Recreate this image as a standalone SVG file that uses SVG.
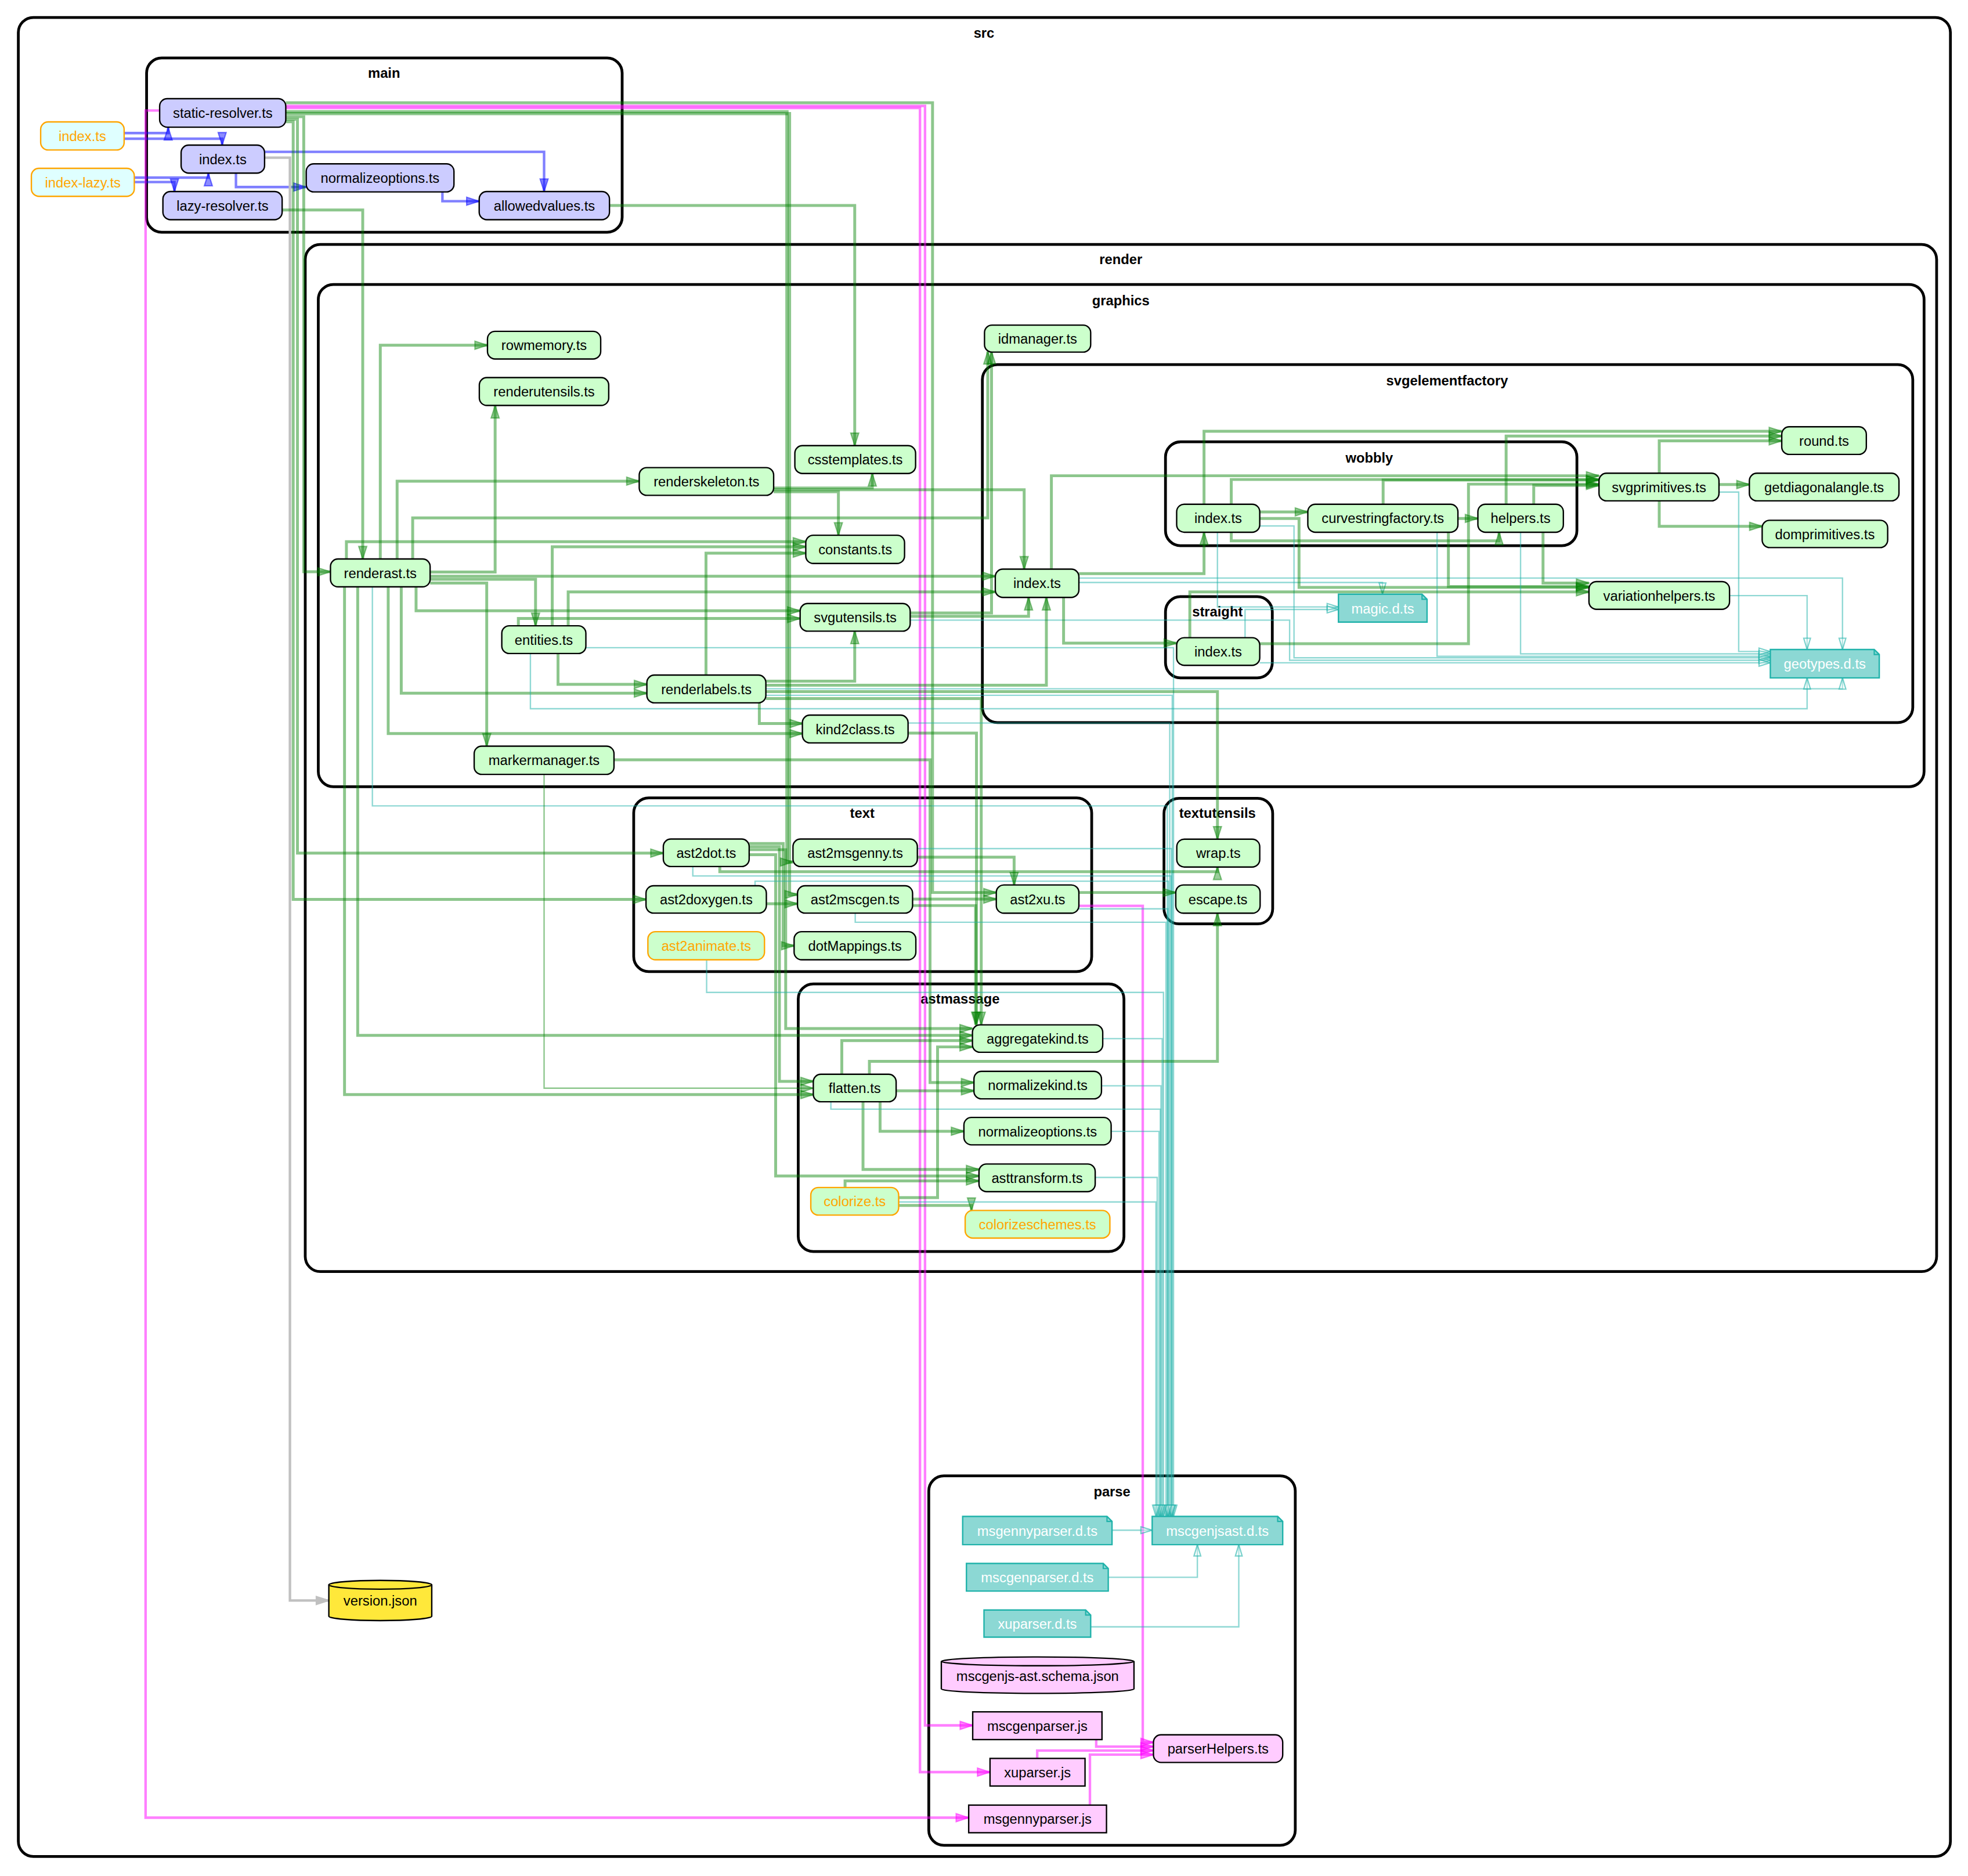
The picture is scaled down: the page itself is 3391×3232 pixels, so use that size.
<svg xmlns="http://www.w3.org/2000/svg" width="3391" height="3232" viewBox="0 0 3391 3232">
<style>
.cl{fill:none;stroke:#000;stroke-width:2.2}
.cll{font-family:"Liberation Sans",Arial,sans-serif;font-size:11px;font-weight:bold;text-anchor:middle;fill:#000}
.nt{font-family:"Liberation Sans",Arial,sans-serif;font-size:11px;text-anchor:middle;fill:#000}
.nto{font-family:"Liberation Sans",Arial,sans-serif;font-size:11px;text-anchor:middle;fill:#ffa500}
.ntw{font-family:"Liberation Sans",Arial,sans-serif;font-size:11px;text-anchor:middle;fill:#fff}
.nm{fill:#ccccff;stroke:#000;stroke-width:1.1}
.ng{fill:#ccffcc;stroke:#000;stroke-width:1.1}
.ngo{fill:#ccffcc;stroke:#ffa500;stroke-width:1.1}
.nco{fill:#dfffff;stroke:#ffa500;stroke-width:1.1}
.nd{fill:#8cd8d4;stroke:#20b2aa;stroke-width:1.1}
.np{fill:#ffccff;stroke:#000;stroke-width:1.1}
.ny{fill:#ffe83a;stroke:#000;stroke-width:1.1}
.g{fill:none;stroke:#008000;stroke-opacity:0.45;stroke-width:2.3;marker-end:url(#mg)}
.gt{fill:none;stroke:#008000;stroke-opacity:0.45;stroke-width:1.1;marker-end:url(#mg)}
.b{fill:none;stroke:#0000ff;stroke-opacity:0.5;stroke-width:2;marker-end:url(#mb)}
.m{fill:none;stroke:#ff00ff;stroke-opacity:0.5;stroke-width:2;marker-end:url(#mm)}
.t{fill:none;stroke:#20b2aa;stroke-opacity:0.5;stroke-width:1.1;marker-end:url(#mt)}
.gr{fill:none;stroke:#c0c0c0;stroke-width:2;marker-end:url(#mgr)}
</style>
<defs>
<marker id="mg" markerUnits="userSpaceOnUse" markerWidth="10" markerHeight="6.4" viewBox="0 0 10 6.4" refX="10" refY="3.2" orient="auto" overflow="visible"><path d="M0,0 L10,3.2 L0,6.4 z" fill="#008000" fill-opacity="0.4" stroke="#008000" stroke-opacity="0.45" stroke-width="1"/></marker>
<marker id="mb" markerUnits="userSpaceOnUse" markerWidth="10" markerHeight="6.4" viewBox="0 0 10 6.4" refX="10" refY="3.2" orient="auto" overflow="visible"><path d="M0,0 L10,3.2 L0,6.4 z" fill="#0000ff" fill-opacity="0.45" stroke="#0000ff" stroke-opacity="0.5" stroke-width="1"/></marker>
<marker id="mm" markerUnits="userSpaceOnUse" markerWidth="10" markerHeight="6.4" viewBox="0 0 10 6.4" refX="10" refY="3.2" orient="auto" overflow="visible"><path d="M0,0 L10,3.2 L0,6.4 z" fill="#ff00ff" fill-opacity="0.45" stroke="#ff00ff" stroke-opacity="0.5" stroke-width="1"/></marker>
<marker id="mt" markerUnits="userSpaceOnUse" markerWidth="9" markerHeight="5.4" viewBox="0 0 9 5.4" refX="9" refY="2.7" orient="auto" overflow="visible"><path d="M0,0 L9,2.7 L0,5.4 z" fill="#ffffff" fill-opacity="0.3" stroke="#20b2aa" stroke-opacity="0.6" stroke-width="1"/></marker>
<marker id="mgr" markerUnits="userSpaceOnUse" markerWidth="10" markerHeight="6.4" viewBox="0 0 10 6.4" refX="10" refY="3.2" orient="auto" overflow="visible"><path d="M0,0 L10,3.2 L0,6.4 z" fill="#c0c0c0" stroke="#c0c0c0" stroke-width="1"/></marker>
</defs>
<rect width="3391" height="3232" fill="#fff"/>
<g transform="scale(2.16263)">
<g id="clusters">
<g id="cluster_src"><rect class="cl" x="14.6" y="13.9" width="1539.4" height="1465" rx="12"/><text class="cll" x="784" y="30">src</text></g>
<g id="cluster_main"><rect class="cl" x="116.8" y="46.2" width="378.9" height="138.8" rx="12"/><text class="cll" x="306" y="62">main</text></g>
<g id="cluster_render"><rect class="cl" x="243.2" y="194.7" width="1299.8" height="818.3" rx="12"/><text class="cll" x="893" y="210.5">render</text></g>
<g id="cluster_graphics"><rect class="cl" x="253.6" y="226.6" width="1279.4" height="400.1" rx="12"/><text class="cll" x="893" y="243">graphics</text></g>
<g id="cluster_svgelementfactory"><rect class="cl" x="782.7" y="290.4" width="741.3" height="285.2" rx="12"/><text class="cll" x="1153" y="307">svgelementfactory</text></g>
<g id="cluster_wobbly"><rect class="cl" x="928.6" y="352" width="327.8" height="82.7" rx="12"/><text class="cll" x="1091" y="368.5">wobbly</text></g>
<g id="cluster_straight"><rect class="cl" x="928.6" y="475.3" width="85.1" height="64.7" rx="12"/><text class="cll" x="970" y="491">straight</text></g>
<g id="cluster_text"><rect class="cl" x="504.9" y="635.6" width="364.9" height="138.4" rx="12"/><text class="cll" x="687" y="651.5">text</text></g>
<g id="cluster_textutensils"><rect class="cl" x="927.4" y="636" width="86.6" height="100" rx="12"/><text class="cll" x="970" y="651.5">textutensils</text></g>
<g id="cluster_astmassage"><rect class="cl" x="636" y="783.8" width="259.5" height="213.2" rx="12"/><text class="cll" x="765" y="799.5">astmassage</text></g>
<g id="cluster_parse"><rect class="cl" x="740" y="1175.7" width="292" height="294.3" rx="12"/><text class="cll" x="886" y="1192">parse</text></g>
</g>
<g id="edges">
<path class="b" d="M99,106 H134 V101.5"/>
<path class="b" d="M99,110.5 H177 V115.6"/>
<path class="b" d="M107,141.5 H166 V138"/>
<path class="b" d="M107,145 H139 V152.6"/>
<path class="b" d="M188,138 V149 H244"/>
<path class="b" d="M210.8,121 H433.5 V152.6"/>
<path class="b" d="M352.5,153 V160.3 H381.8"/>
<path class="gr" d="M210.8,125.6 H231 V1275 H262"/>
<path class="m" d="M227.7,84.4 H737 V1374.5 H775"/>
<path class="m" d="M227.7,86 H733 V1411.7 H788.8"/>
<path class="m" d="M127.2,88 H116 V1448 H771.8"/>
<path class="m" d="M859.6,721.6 H910.5 V1388 H919"/>
<path class="m" d="M873.4,1385.8 V1391.4 H919"/>
<path class="m" d="M826.4,1400.8 V1394.5 H919"/>
<path class="m" d="M868.4,1438 V1397.8 H919"/>
<path class="g" d="M227.7,81.8 H743 V711 H793.8"/>
<path class="g" style="stroke-width:2.6" d="M227.7,89 H627 V686.7 H631.8"/>
<path class="g" style="stroke-width:2.6" d="M227.7,90.5 H629 V712.6 H635.4"/>
<path class="g" d="M227.7,93 H242 V455.5 H263.3"/>
<path class="g" d="M227.7,95 H237 V679.6 H528.5"/>
<path class="g" d="M227.7,97 H233.6 V716.5 H514.7"/>
<path class="g" d="M224.8,167.3 H289 V445.3"/>
<path class="g" d="M485.6,163.7 H681 V355"/>
<path class="g" d="M303,445.3 V275 H388.4"/>
<path class="g" d="M342.7,455.7 H394.5 V323"/>
<path class="g" d="M316.4,445.3 V383.3 H509.3"/>
<path class="g" d="M328.8,445.3 V412.6 H787 V280"/>
<path class="g" d="M276,445.3 V431.5 H642"/>
<path class="g" d="M342.7,459 H793"/>
<path class="g" d="M342.7,461.5 H426.7 V498.5"/>
<path class="g" d="M342.7,464.5 H387.8 V594.4"/>
<path class="g" d="M331.5,467.5 V486.6 H637.5"/>
<path class="g" d="M319.7,467.5 V552.2 H515.4"/>
<path class="g" d="M309.3,467.5 V584.4 H639.3"/>
<path class="g" d="M285,467.5 V824.8 H774.8"/>
<path class="g" d="M274.5,467.5 V872 H648"/>
<path class="t" d="M296.7,467.5 V642 H930 V1208"/>
<path class="g" d="M616.4,388.7 H695 V377.2"/>
<path class="g" d="M616.4,391.8 H668 V426.4"/>
<path class="g" d="M616.4,390.2 H816 V453.4"/>
<path class="g" d="M440,498.5 V435.6 H642"/>
<path class="g" d="M452.7,498.5 V471.5 H793"/>
<path class="g" d="M413,498.5 V492.7 H637.5"/>
<path class="g" d="M444.6,520.6 V545.2 H515.4"/>
<path class="t" d="M466.8,516 H935 V1208"/>
<path class="t" d="M422.6,520.6 V564.6 H1439.8 V540"/>
<path class="g" d="M725.2,488.3 H790 V280"/>
<path class="g" d="M725.2,491 H819.5 V475.9"/>
<path class="t" d="M725.2,494 H1027.5 V526 H1410.5"/>
<path class="g" d="M562.5,537.8 V440.7 H642"/>
<path class="g" d="M610.2,542.6 H681 V502.8"/>
<path class="g" d="M610.2,545.9 H833.7 V475.9"/>
<path class="g" d="M610.2,551 H970 V668.5"/>
<path class="g" d="M605,559.9 V576.4 H639.3"/>
<path class="g" d="M610.2,556.5 H781.8 V816.4"/>
<path class="t" d="M610.2,548.7 H1468 V540"/>
<path class="t" d="M610.2,553.9 H934 V1208"/>
<path class="g" d="M723.5,584 H778 V816.4"/>
<path class="t" d="M723.5,576 H932 V1208"/>
<path class="g" d="M489.2,605.3 H741 V862.4 H776"/>
<path class="gt" d="M433.5,616.9 V866.9 H648"/>
<path class="g" d="M859.6,457 H959.3 V424"/>
<path class="g" d="M847.4,475.9 V512.3 H937.5"/>
<path class="g" d="M837.7,453.4 V379 H1274"/>
<path class="t" d="M859.6,460.5 H1468 V517.4"/>
<path class="t" d="M859.6,464 H1101.5 V473.4"/>
<path class="g" d="M1003.7,407.8 H1042"/>
<path class="g" d="M959.3,401.7 V343.6 H1419.6"/>
<path class="g" d="M981,401.7 V382 H1274"/>
<path class="g" d="M981,424 V430.8 H1194.4 V424"/>
<path class="g" d="M1003.7,413 H1035 V468 H1266"/>
<path class="t" d="M1003.7,419 H1031 V524 H1410.5"/>
<path class="t" d="M970,424 V483.5 H1066.4"/>
<path class="g" d="M1161.6,413 H1177.5"/>
<path class="g" d="M1102,401.7 V382.4 H1274"/>
<path class="g" d="M1154,424 V467.2 H1266"/>
<path class="t" d="M1145,424 V522.8 H1410.5"/>
<path class="g" d="M1200,401.7 V347.4 H1419.6"/>
<path class="g" d="M1222,401.7 V386.7 H1274"/>
<path class="g" d="M1229.4,424 V464.5 H1266"/>
<path class="t" d="M1211.5,424 V520.9 H1410.5"/>
<path class="g" d="M1322,377 V351.2 H1419.6"/>
<path class="g" d="M1369.6,386 H1393.8"/>
<path class="g" d="M1322,399 V419.3 H1404"/>
<path class="t" d="M1369.6,392 H1385.3 V519 H1410.5"/>
<path class="t" d="M1378,474.5 H1439.8 V517.4"/>
<path class="g" d="M1003.7,512.8 H1170 V385.7 H1274"/>
<path class="g" d="M948,508 V471.5 H1266"/>
<path class="t" d="M1003.7,528 H1410.5"/>
<path class="t" d="M992,508 V485.5 H1066.4"/>
<path class="g" d="M596.9,672 H624 V753.4 H632.7"/>
<path class="g" d="M596.9,674.5 H621 V861.4 H648"/>
<path class="g" d="M596.9,676.9 H626 V819.4 H774.8"/>
<path class="g" d="M596.9,680.9 H618 V936.8 H780"/>
<path class="g" d="M573.5,690.3 V694.4 H970 V690.7"/>
<path class="t" d="M552,690.3 V697.8 H933 V1208"/>
<path class="g" d="M610.6,720 H635.4"/>
<path class="t" d="M601.6,705.6 V702 H931 V1208"/>
<path class="g" d="M730.9,682.8 H808 V705"/>
<path class="t" d="M730.9,676 H933.5 V1208"/>
<path class="g" d="M727.1,716.3 H793.8"/>
<path class="g" d="M727.1,721.4 H777.3 V816.4"/>
<path class="t" d="M681.4,727.4 V734.7 H929 V1208"/>
<path class="g" d="M859.6,711 H936.8"/>
<path class="t" d="M859.6,724 H930.5 V1208"/>
<path class="t" d="M563,764.6 V790.6 H927 V1208"/>
<path class="g" d="M670.7,855.8 V829 H774.8"/>
<path class="g" d="M714,869 H776"/>
<path class="g" d="M701.2,877.7 V901.2 H768"/>
<path class="g" d="M687.6,877.7 V931.6 H780"/>
<path class="g" d="M692.7,855.8 V845.5 H970 V727.5"/>
<path class="t" d="M662,877.7 V883.6 H924.5 V1208"/>
<path class="t" d="M878.6,827.4 H926 V1208"/>
<path class="t" d="M877.6,865 H925 V1208"/>
<path class="t" d="M885.3,901.3 H923.5 V1208"/>
<path class="t" d="M872.6,938 H922 V1208"/>
<path class="g" d="M673.3,946 V940.8 H780"/>
<path class="g" d="M716,954 H747 V834 H774.8"/>
<path class="g" d="M716,960.3 H774 V964.3"/>
<path class="t" d="M716,957.5 H921 V1208"/>
<path class="t" d="M886,1219 H918"/>
<path class="t" d="M883,1256.5 H954 V1230.5"/>
<path class="t" d="M869,1296 H987 V1230.5"/>
</g>
<g id="nodes">
<g id="n_index_root"><rect class="nco" x="32.4" y="97.1" width="66.5" height="22.4" rx="6"/><text class="nto" x="65.6" y="112.3">index.ts</text></g>
<g id="n_index_lazy"><rect class="nco" x="25" y="134.1" width="82" height="22.3" rx="6"/><text class="nto" x="66" y="149.2">index-lazy.ts</text></g>
<g id="n_static_resolver"><rect class="nm" x="127.2" y="78.6" width="100.5" height="22.7" rx="6"/><text class="nt" x="177.5" y="93.9">static-resolver.ts</text></g>
<g id="n_main_index"><rect class="nm" x="144.3" y="115.6" width="66.5" height="22.3" rx="6"/><text class="nt" x="177.5" y="130.7">index.ts</text></g>
<g id="n_main_normalizeoptions"><rect class="nm" x="244" y="130.5" width="117.7" height="22.4" rx="6"/><text class="nt" x="302.8" y="145.7">normalizeoptions.ts</text></g>
<g id="n_lazy_resolver"><rect class="nm" x="129.8" y="152.6" width="95" height="22.4" rx="6"/><text class="nt" x="177.3" y="167.8">lazy-resolver.ts</text></g>
<g id="n_allowedvalues"><rect class="nm" x="381.8" y="152.6" width="103.8" height="22.4" rx="6"/><text class="nt" x="433.7" y="167.8">allowedvalues.ts</text></g>
<g id="n_rowmemory"><rect class="ng" x="388.4" y="264" width="90.2" height="22" rx="6"/><text class="nt" x="433.5" y="279">rowmemory.ts</text></g>
<g id="n_renderutensils"><rect class="ng" x="381.9" y="300.8" width="103.1" height="22.2" rx="6"/><text class="nt" x="433.5" y="315.9">renderutensils.ts</text></g>
<g id="n_csstemplates"><rect class="ng" x="633.3" y="355" width="96.2" height="22.2" rx="6"/><text class="nt" x="681.4" y="370.1">csstemplates.ts</text></g>
<g id="n_renderskeleton"><rect class="ng" x="509.3" y="372.5" width="107.1" height="22.1" rx="6"/><text class="nt" x="562.9" y="387.6">renderskeleton.ts</text></g>
<g id="n_constants"><rect class="ng" x="642" y="426.4" width="78.7" height="22.5" rx="6"/><text class="nt" x="681.4" y="441.6">constants.ts</text></g>
<g id="n_renderast"><rect class="ng" x="263.3" y="445.3" width="79.4" height="22.2" rx="6"/><text class="nt" x="303" y="460.4">renderast.ts</text></g>
<g id="n_svgutensils"><rect class="ng" x="637.5" y="480.8" width="87.7" height="22" rx="6"/><text class="nt" x="681.4" y="495.8">svgutensils.ts</text></g>
<g id="n_entities"><rect class="ng" x="399.8" y="498.5" width="67" height="22.1" rx="6"/><text class="nt" x="433.3" y="513.6">entities.ts</text></g>
<g id="n_renderlabels"><rect class="ng" x="515.4" y="537.8" width="94.8" height="22.1" rx="6"/><text class="nt" x="562.8" y="552.9">renderlabels.ts</text></g>
<g id="n_kind2class"><rect class="ng" x="639.3" y="569.7" width="84.2" height="22.1" rx="6"/><text class="nt" x="681.4" y="584.8">kind2class.ts</text></g>
<g id="n_markermanager"><rect class="ng" x="377.8" y="594.4" width="111.4" height="22.5" rx="6"/><text class="nt" x="433.5" y="609.6">markermanager.ts</text></g>
<g id="n_idmanager"><rect class="ng" x="784.4" y="259" width="84.6" height="21.5" rx="6"/><text class="nt" x="826.7" y="273.8">idmanager.ts</text></g>
<g id="n_sef_index"><rect class="ng" x="793" y="453.4" width="66.6" height="22.5" rx="6"/><text class="nt" x="826.3" y="468.6">index.ts</text></g>
<g id="n_wobbly_index"><rect class="ng" x="937.5" y="401.7" width="66.2" height="22.3" rx="6"/><text class="nt" x="970.6" y="416.8">index.ts</text></g>
<g id="n_curvestringfactory"><rect class="ng" x="1042" y="401.7" width="119.6" height="22.3" rx="6"/><text class="nt" x="1101.8" y="416.8">curvestringfactory.ts</text></g>
<g id="n_helpers"><rect class="ng" x="1177.5" y="401.7" width="68.1" height="22.3" rx="6"/><text class="nt" x="1211.5" y="416.8">helpers.ts</text></g>
<g id="n_svgprimitives"><rect class="ng" x="1274" y="377" width="95.6" height="22" rx="6"/><text class="nt" x="1321.8" y="392">svgprimitives.ts</text></g>
<g id="n_round"><rect class="ng" x="1419.6" y="340" width="67.4" height="22" rx="6"/><text class="nt" x="1453.3" y="355">round.ts</text></g>
<g id="n_getdiagonalangle"><rect class="ng" x="1393.8" y="377" width="119.2" height="22" rx="6"/><text class="nt" x="1453.4" y="392">getdiagonalangle.ts</text></g>
<g id="n_domprimitives"><rect class="ng" x="1404" y="414.5" width="100" height="21.7" rx="6"/><text class="nt" x="1454" y="429.4">domprimitives.ts</text></g>
<g id="n_variationhelpers"><rect class="ng" x="1266" y="463.3" width="112" height="22.1" rx="6"/><text class="nt" x="1322" y="478.4">variationhelpers.ts</text></g>
<g id="n_magic"><path class="nd" d="M1066.4,473.4 H1133 L1137,477.4 V495.6 H1066.4 Z"/><path d="M1133,473.4 V477.4 H1137" fill="none" stroke="#20b2aa" stroke-width="1"/><text class="ntw" x="1101.7" y="488.6">magic.d.ts</text></g>
<g id="n_straight_index"><rect class="ng" x="937.5" y="508" width="66.2" height="22" rx="6"/><text class="nt" x="970.6" y="523">index.ts</text></g>
<g id="n_geotypes"><path class="nd" d="M1410.5,517.4 H1493.3 L1497.3,521.4 V540 H1410.5 Z"/><path d="M1493.3,517.4 V521.4 H1497.3" fill="none" stroke="#20b2aa" stroke-width="1"/><text class="ntw" x="1453.9" y="532.7">geotypes.d.ts</text></g>
<g id="n_ast2dot"><rect class="ng" x="528.5" y="668.4" width="68.4" height="21.9" rx="6"/><text class="nt" x="562.7" y="683.4">ast2dot.ts</text></g>
<g id="n_ast2msgenny"><rect class="ng" x="631.8" y="668.4" width="99.1" height="21.9" rx="6"/><text class="nt" x="681.4" y="683.4">ast2msgenny.ts</text></g>
<g id="n_ast2doxygen"><rect class="ng" x="514.7" y="705.6" width="95.9" height="21.8" rx="6"/><text class="nt" x="562.7" y="720.6">ast2doxygen.ts</text></g>
<g id="n_ast2mscgen"><rect class="ng" x="635.4" y="705.6" width="91.7" height="21.8" rx="6"/><text class="nt" x="681.3" y="720.6">ast2mscgen.ts</text></g>
<g id="n_ast2xu"><rect class="ng" x="793.8" y="705" width="65.8" height="22.5" rx="6"/><text class="nt" x="826.7" y="720.2">ast2xu.ts</text></g>
<g id="n_ast2animate"><rect class="ngo" x="516.2" y="742.2" width="92.9" height="22.4" rx="6"/><text class="nto" x="562.7" y="757.4">ast2animate.ts</text></g>
<g id="n_dotMappings"><rect class="ng" x="632.7" y="742.2" width="97" height="22.4" rx="6"/><text class="nt" x="681.2" y="757.4">dotMappings.ts</text></g>
<g id="n_wrap"><rect class="ng" x="937.6" y="668.5" width="66.1" height="22.2" rx="6"/><text class="nt" x="970.7" y="683.6">wrap.ts</text></g>
<g id="n_escape"><rect class="ng" x="936.8" y="705" width="67.2" height="22.5" rx="6"/><text class="nt" x="970.4" y="720.2">escape.ts</text></g>
<g id="n_aggregatekind"><rect class="ng" x="774.8" y="816.4" width="103.8" height="21.9" rx="6"/><text class="nt" x="826.7" y="831.4">aggregatekind.ts</text></g>
<g id="n_normalizekind"><rect class="ng" x="776" y="853.5" width="101.6" height="21.9" rx="6"/><text class="nt" x="826.8" y="868.5">normalizekind.ts</text></g>
<g id="n_flatten"><rect class="ng" x="648" y="855.8" width="66" height="21.9" rx="6"/><text class="nt" x="681" y="870.8">flatten.ts</text></g>
<g id="n_am_normalizeoptions"><rect class="ng" x="768" y="890.2" width="117.3" height="21.8" rx="6"/><text class="nt" x="826.7" y="905.2">normalizeoptions.ts</text></g>
<g id="n_asttransform"><rect class="ng" x="780" y="927.3" width="92.6" height="22" rx="6"/><text class="nt" x="826.3" y="942.4">asttransform.ts</text></g>
<g id="n_colorize"><rect class="ngo" x="646" y="946" width="70" height="22" rx="6"/><text class="nto" x="681" y="961">colorize.ts</text></g>
<g id="n_colorizeschemes"><rect class="ngo" x="769" y="964.3" width="115.3" height="22" rx="6"/><text class="nto" x="826.6" y="979.4">colorizeschemes.ts</text></g>
<g id="n_msgennyparser_d"><path class="nd" d="M767,1208 H882 L886,1212 V1230.5 H767 Z"/><path d="M882,1208 V1212 H886" fill="none" stroke="#20b2aa" stroke-width="1"/><text class="ntw" x="826.5" y="1223.3">msgennyparser.d.ts</text></g>
<g id="n_mscgenjsast_d"><path class="nd" d="M918,1208 H1018 L1022,1212 V1230.5 H918 Z"/><path d="M1018,1208 V1212 H1022" fill="none" stroke="#20b2aa" stroke-width="1"/><text class="ntw" x="970" y="1223.3">mscgenjsast.d.ts</text></g>
<g id="n_mscgenparser_d"><path class="nd" d="M770,1245.5 H879 L883,1249.5 V1267.5 H770 Z"/><path d="M879,1245.5 V1249.5 H883" fill="none" stroke="#20b2aa" stroke-width="1"/><text class="ntw" x="826.5" y="1260.5">mscgenparser.d.ts</text></g>
<g id="n_xuparser_d"><path class="nd" d="M784,1282.6 H865 L869,1286.6 V1304.2 H784 Z"/><path d="M865,1282.6 V1286.6 H869" fill="none" stroke="#20b2aa" stroke-width="1"/><text class="ntw" x="826.5" y="1297.4">xuparser.d.ts</text></g>
<g id="n_schema"><path class="np" d="M750,1323.5 A76.75,3.5 0 0 1 903.5,1323.5 V1345.5 A76.75,3.5 0 0 1 750,1345.5 Z"/><path d="M750,1323.5 A76.75,3.5 0 0 0 903.5,1323.5" fill="none" stroke="#000" stroke-width="1.1"/><text class="nt" x="826.7" y="1339">mscgenjs-ast.schema.json</text></g>
<g id="n_mscgenparser_js"><rect class="np" x="775" y="1363.7" width="103" height="22.1"/><text class="nt" x="826.5" y="1378.8">mscgenparser.js</text></g>
<g id="n_parserHelpers"><rect class="np" x="919" y="1382" width="103" height="22" rx="6"/><text class="nt" x="970.5" y="1397">parserHelpers.ts</text></g>
<g id="n_xuparser_js"><rect class="np" x="788.8" y="1400.8" width="75.7" height="22"/><text class="nt" x="826.6" y="1415.8">xuparser.js</text></g>
<g id="n_msgennyparser_js"><rect class="np" x="771.8" y="1438" width="109.8" height="22"/><text class="nt" x="826.7" y="1453">msgennyparser.js</text></g>
<g id="n_version"><path class="ny" d="M262,1262.5 A41,3.5 0 0 1 344,1262.5 V1287.5 A41,3.5 0 0 1 262,1287.5 Z"/><path d="M262,1262.5 A41,3.5 0 0 0 344,1262.5" fill="none" stroke="#000" stroke-width="1.1"/><text class="nt" x="303" y="1279">version.json</text></g>
</g>
</g>
</svg>
